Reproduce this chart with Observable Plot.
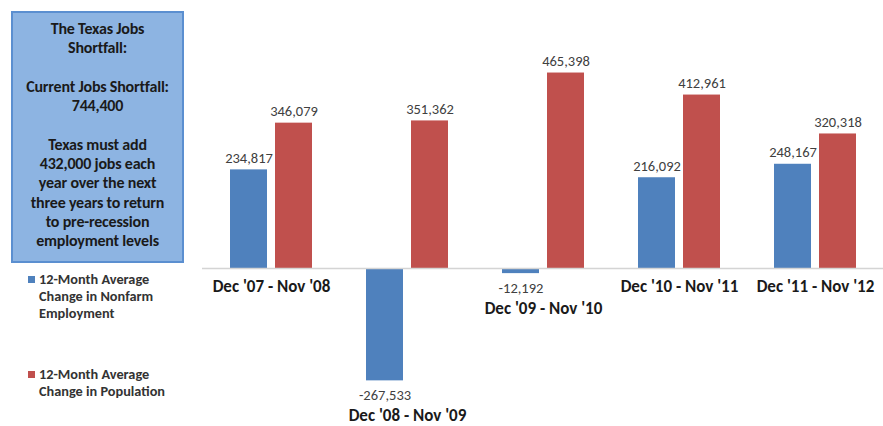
<!DOCTYPE html>
<html>
<head>
<meta charset="utf-8">
<script src="https://cdn.jsdelivr.net/npm/d3@7"></script>
<script src="https://cdn.jsdelivr.net/npm/@observablehq/plot@0.6"></script>
<style>
  html, body { margin: 0; padding: 0; background: #fff; }
  body { font-family: Carlito, Calibri, Lato, sans-serif; }
  #wrap { display: flex; width: 883px; height: 426px; }
  #side { position: relative; width: 202px; height: 426px; flex: none; }
  #box {
    position: absolute; left: 11px; top: 11px; width: 173px; height: 252px;
    box-sizing: border-box; background: #8db4e2; border: 2px solid #5b8fd0;
    text-align: center; font-weight: bold; font-size: 16px; line-height: 19.3px;
    color: #1a1a1a; padding-top: 6px; letter-spacing: -0.2px; white-space: nowrap;
  }
  .leg { position: absolute; left: 28px; font-size: 14.3px; font-weight: bold; color: #333; line-height: 17px; white-space: nowrap; }
  .leg .sw { position: absolute; left: 0; top: 5px; width: 7px; height: 7px; }
  .leg .tx { margin-left: 11px; }
</style>
</head>
<body>
<div id="wrap">
  <div id="side">
    <div id="box"></div>
    <div id="legend"></div>
  </div>
  <div id="chart"></div>
</div>
<script>
const categories = ["Dec '07 - Nov '08", "Dec '08 - Nov '09", "Dec '09 - Nov '10", "Dec '10 - Nov '11", "Dec '11 - Nov '12"];
const seriesNames = ["12-Month Average Change in Nonfarm Employment", "12-Month Average Change in Population"];
const seriesLines = [["12-Month Average", "Change in Nonfarm", "Employment"], ["12-Month Average", "Change in Population"]];
const employment = [234817, -267533, -12192, 216092, 248167];
const population = [346079, 351362, 465398, 412961, 320318];
const colors = ["#4f81bd", "#c0504d"];
const boxLines = ["The Texas Jobs", "Shortfall:", "", "Current Jobs Shortfall:", "744,400", "", "Texas must add", "432,000 jobs each", "year over the next", "three years to return", "to pre-recession", "employment levels"];

document.getElementById("box").innerHTML = boxLines.map(l => l === "" ? "&nbsp;" : l).join("<br>");
const legTops = [271, 366];
document.getElementById("legend").innerHTML = seriesLines.map((lines, i) =>
  `<div class="leg" style="top:${legTops[i]}px"><div class="sw" style="background:${colors[i]}"></div><div class="tx">${lines.join("<br>")}</div></div>`).join("");

const emp = categories.map((c, i) => ({cat: c, value: employment[i]}));
const pop = categories.map((c, i) => ({cat: c, value: population[i]}));
const groups = categories.map((c, i) => ({cat: c, low: Math.min(0, employment[i], population[i])}));
const fmt = v => v.toLocaleString("en-US");
const off = 22.5;

const chart = Plot.plot({
  width: 681, height: 426,
  marginLeft: 0, marginRight: 0, marginTop: 58, marginBottom: 32,
  style: {fontFamily: "Carlito, Calibri, Lato, sans-serif", background: "transparent"},
  x: {domain: categories, paddingInner: 0.4, paddingOuter: 0.2, axis: null},
  y: {domain: [-300000, 500000], axis: null},
  marks: [
    Plot.barY(emp, {x: "cat", y: "value", fill: colors[0], insetRight: 45}),
    Plot.barY(pop, {x: "cat", y: "value", fill: colors[1], insetLeft: 45}),
    Plot.ruleY([0], {stroke: "#d4d4d4", strokeWidth: 1.5}),
    Plot.text(emp, {filter: d => d.value >= 0, x: "cat", y: "value", text: d => fmt(d.value), dx: -off, dy: -7, lineAnchor: "bottom", fontSize: 14.5, fill: "#404040"}),
    Plot.text(emp, {filter: d => d.value < 0, x: "cat", y: "value", text: d => fmt(d.value), dx: -off, dy: 9, lineAnchor: "top", fontSize: 14.5, fill: "#404040"}),
    Plot.text(pop, {x: "cat", y: "value", text: d => fmt(d.value), dx: off, dy: -7, lineAnchor: "bottom", fontSize: 14.5, fill: "#404040"}),
    Plot.text(groups, {filter: d => d.low >= 0, x: "cat", y: 0, text: "cat", dy: 18, fontSize: 17, fontWeight: "bold", fill: "#1a1a1a"}),
    Plot.text(groups, {filter: d => d.low < 0, x: "cat", y: "low", text: "cat", dy: 35, fontSize: 17, fontWeight: "bold", fill: "#1a1a1a"})
  ]
});
document.getElementById("chart").appendChild(chart);
</script>
</body>
</html>
